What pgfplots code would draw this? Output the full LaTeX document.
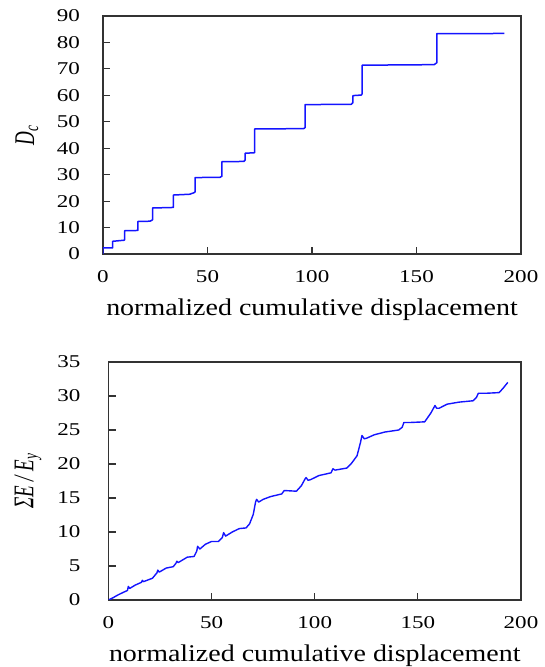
\documentclass[border=0pt]{standalone}
\usepackage{fontspec}
\setmainfont{Liberation Serif}
\usepackage{graphicx}
\usepackage{pgfplots}
\pgfplotsset{compat=1.18}

\pgfplotsset{
 mystyle/.style={
  scale only axis,
  axis line style={draw=black!80, line width=1.3pt},
  tick style={draw=black!80, line width=1.1pt},
  major tick length=7pt,
  tick align=inside,
  tick pos=left,
  /pgf/number format/assume math mode=true,
  xmin=0, xmax=200, xtick={0,50,...,200},
  xticklabel={\scalebox{1.28}[1]{\pgfmathprintnumber{\tick}}},
  yticklabel={\scalebox{1.28}[1]{\pgfmathprintnumber{\tick}}},
  ticklabel style={font=\fontsize{18}{20}\selectfont, inner sep=0pt},
  xticklabel style={anchor=north, yshift=-16pt},
  xlabel={\scalebox{1.165}[1]{normalized cumulative displacement}},
  xlabel style={font=\fontsize{24}{26}\selectfont, at={(axis description cs:0.5,-0.26)}, anchor=base, inner sep=0pt},
  ylabel style={rotate=-90, anchor=center, font=\fontsize{19}{21}\selectfont, inner sep=0pt},
 }
}

\begin{document}
\begin{tikzpicture}
\useasboundingbox (0,0) rectangle (544pt,667pt);

\begin{axis}[mystyle,
  at={(103pt,413pt)}, anchor=south west,
  width=418pt, height=238pt,
  ymin=0, ymax=90, ytick={0,10,...,90},
  yticklabel style={anchor=east, xshift=-23pt},
  ylabel={\scalebox{1.5}[1]{\rotatebox{90}{\textit{D}\textsubscript{\textit{c}}}}},
  ylabel style={at={(axis description cs:-0.182,0.5)}},
]
\addplot[color={rgb,255:red,20;green,20;blue,255}, line width=1.5pt, line join=round, no marks] coordinates {
(0,0) (0,2.3) (4.6,2.3) (4.6,4.8) (10.0,5.2) (10.4,5.4) (10.4,8.8) (16.7,8.9)
(16.7,12.3) (22.5,12.4) (23.7,12.9) (23.7,17.4) (33.7,17.6) (33.7,22.3) (41.5,22.6)
(43.6,23.2) (44.1,23.5) (44.1,28.9) (56.0,29.0) (56.9,29.4) (56.9,34.9) (67.4,35.0)
(68.0,35.5) (68.0,38.1) (72.6,38.3) (72.6,47.3) (96.0,47.4) (96.7,47.8) (96.7,56.5)
(118.8,56.6) (119.6,57.3) (119.6,59.9) (123.6,60.1) (124.0,60.6) (124.0,71.4)
(158.4,71.6) (159.7,72.3) (159.7,83.3) (192,83.4)
};
\end{axis}

\begin{axis}[mystyle,
  at={(108.5pt,67pt)}, anchor=south west,
  width=412.5pt, height=238pt,
  ymin=0, ymax=35, ytick={0,5,...,35},
  yticklabel style={anchor=east, xshift=-28pt},
  ylabel={\scalebox{1.5}[1]{\rotatebox{90}{\textit{ΣE / E}\textsubscript{\textit{y}}}}},
  ylabel style={at={(axis description cs:-0.195,0.5)}},
]
\addplot[color={rgb,255:red,20;green,20;blue,255}, line width=1.4pt, line join=round, no marks] coordinates {
(0,0) (2,0.3) (4.5,0.73) (7,1.1) (9.2,1.4) (9.6,2.0) (10.3,1.7) (13,2.2) (16.0,2.6)
(16.4,2.9) (17,2.7) (21.3,3.2) (23.5,4.0) (23.9,4.4) (24.6,4.1) (28,4.7) (31.4,4.9)
(32.7,5.4) (33.1,5.7) (33.8,5.5) (38.2,6.3) (41.5,6.4) (42.8,7.2) (43.2,7.9) (44.3,7.5)
(47,8.2) (49.9,8.6) (53.3,8.6) (55.2,9.2) (55.8,9.9) (56.8,9.4) (60,10.0) (63.4,10.5)
(66.7,10.6) (68.4,11.2) (70.2,12.6) (71.3,14.4) (71.8,14.8) (72.8,14.4) (75,14.8) (78.5,15.2)
(84,15.6) (85.2,16.1) (91.1,16.0) (93.5,16.8) (95.3,17.8) (95.8,18.0) (96.8,17.6)
(98,17.7) (102,18.3) (107.9,18.7) (108.8,19.3) (109.8,19.1) (115.5,19.4) (117.8,20.1)
(120.5,21.2) (122.2,23.2) (122.9,24.2) (124.0,23.7) (125.2,23.8) (128.9,24.3) (134,24.7)
(140.7,25.0) (142.4,25.4) (143.2,26.1) (146,26.1) (153.3,26.2) (156.3,27.5) (158.3,28.6)
(159.1,28.2) (160.3,28.2) (164.2,28.8) (170,29.1) (176.8,29.3) (178.4,29.8) (179.3,30.4)
(183,30.4) (189.4,30.5) (191.2,31.1) (193.6,32.0)
};
\end{axis}
\end{tikzpicture}
\end{document}
